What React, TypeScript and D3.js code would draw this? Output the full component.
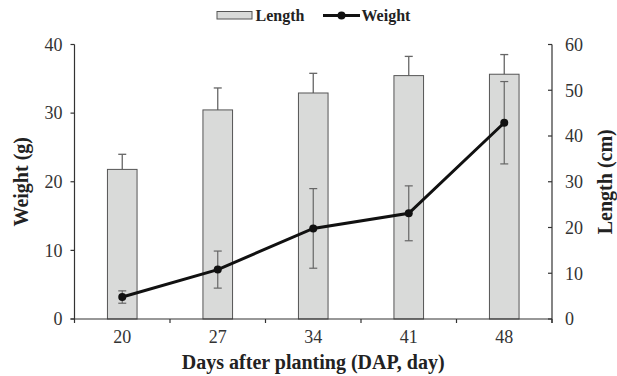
import React from 'react';
import { scaleBand, scaleLinear, line } from 'd3';

const days = ['20', '27', '34', '41', '48'];
const lengthMean = [32.7, 45.7, 49.4, 53.2, 53.5];
const lengthSd = [3.3, 4.8, 4.3, 4.2, 4.3];
const weightMean = [3.2, 7.2, 13.2, 15.4, 28.6];
const weightSd = [0.9, 2.7, 5.8, 4.0, 6.0];
const weightTicks = [0, 10, 20, 30, 40];
const lengthTicks = [0, 10, 20, 30, 40, 50, 60];

const W = 617;
const H = 376;
const margin = { top: 44.5, right: 65, bottom: 57, left: 74.5 };
const FONT = '"Liberation Serif", "Times New Roman", serif';

const App = () => {
  const x = scaleBand().domain(days).range([margin.left, W - margin.right]).padding(0);
  const yW = scaleLinear().domain([0, 40]).range([H - margin.bottom, margin.top]);
  const yL = scaleLinear().domain([0, 60]).range([H - margin.bottom, margin.top]);
  const barW = x.bandwidth() * 0.31;
  const cx = (d: string) => (x(d) as number) + x.bandwidth() / 2;
  const cap = 4;
  const axisColor = '#333';
  const x0 = margin.left;
  const x1 = W - margin.right;
  const yb = H - margin.bottom;
  const midY = (margin.top + yb) / 2;

  const path = line<number>()
    .x((_, i) => cx(days[i]))
    .y((v) => yW(v))(weightMean) as string;

  const boundaries = days.map((d) => x(d) as number).concat([x1]);

  return (
    <svg width={W} height={H} style={{ position: 'absolute', left: 0, top: 0 }} fontFamily={FONT}>
      <rect width={W} height={H} fill="#fff" />

      {/* length bars with upper sd */}
      {days.map((d, i) => (
        <g key={'b' + d}>
          <line x1={cx(d)} x2={cx(d)} y1={yL(lengthMean[i])} y2={yL(lengthMean[i] + lengthSd[i])} stroke="#666" strokeWidth={1.3} />
          <line x1={cx(d) - cap} x2={cx(d) + cap} y1={yL(lengthMean[i] + lengthSd[i])} y2={yL(lengthMean[i] + lengthSd[i])} stroke="#666" strokeWidth={1.3} />
          <rect x={cx(d) - barW / 2} y={yL(lengthMean[i])} width={barW} height={yb - yL(lengthMean[i])} fill="#d9dad9" stroke="#555" strokeWidth={1} />
        </g>
      ))}

      {/* weight error bars */}
      {days.map((d, i) => {
        const lo = yW(weightMean[i] - weightSd[i]);
        const hi = yW(weightMean[i] + weightSd[i]);
        return (
          <g key={'e' + d} stroke="#666" strokeWidth={1.2}>
            <line x1={cx(d)} x2={cx(d)} y1={lo} y2={hi} />
            <line x1={cx(d) - cap} x2={cx(d) + cap} y1={lo} y2={lo} />
            <line x1={cx(d) - cap} x2={cx(d) + cap} y1={hi} y2={hi} />
          </g>
        );
      })}

      <path d={path} fill="none" stroke="#111" strokeWidth={3} />
      {days.map((d, i) => (
        <circle key={'c' + d} cx={cx(d)} cy={yW(weightMean[i])} r={4} fill="#111" />
      ))}

      {/* axes */}
      <g stroke={axisColor} strokeWidth={1.2}>
        <line x1={x0} x2={x0} y1={margin.top} y2={yb} />
        <line x1={x1} x2={x1} y1={margin.top} y2={yb + 4} />
        <line x1={x0 - 4} x2={x1} y1={yb} y2={yb} />
        {weightTicks.map((t) => (
          <line key={'wt' + t} x1={x0 - 4} x2={x0} y1={yW(t)} y2={yW(t)} />
        ))}
        {lengthTicks.map((t) => (
          <line key={'lt' + t} x1={x1 - 4} x2={x1} y1={yL(t)} y2={yL(t)} />
        ))}
        {boundaries.map((b, i) => (
          <line key={'xt' + i} x1={b} x2={b} y1={yb} y2={yb + 4} />
        ))}
      </g>

      <g fontSize={18} fill="#333">
        {weightTicks.map((t) => (
          <text key={'wl' + t} x={x0 - 12} y={yW(t)} dy="0.35em" textAnchor="end">{t}</text>
        ))}
        {lengthTicks.map((t) => (
          <text key={'ll' + t} x={x1 + 13} y={yL(t)} dy="0.35em" textAnchor="start">{t}</text>
        ))}
        {days.map((d) => (
          <text key={'xl' + d} x={cx(d)} y={337} dy="0.35em" textAnchor="middle">{d}</text>
        ))}
      </g>

      <g fontSize={20} fontWeight="bold" fill="#222">
        <text transform={`translate(28, ${midY}) rotate(-90)`} textAnchor="middle">Weight (g)</text>
        <text transform={`translate(612, ${midY}) rotate(-90)`} textAnchor="middle">Length (cm)</text>
        <text x={(x0 + x1) / 2} y={369} textAnchor="middle">Days after planting (DAP, day)</text>
      </g>

      {/* legend */}
      <g fontSize={16} fontWeight="bold" fill="#222">
        <rect x={217} y={11.5} width={35} height={7.5} fill="#d9dad9" stroke="#555" strokeWidth={1} />
        <text x={255.5} y={15.5} dy="0.35em">Length</text>
        <line x1={323} x2={360} y1={15.5} y2={15.5} stroke="#111" strokeWidth={3} />
        <circle cx={341.5} cy={15.5} r={4} fill="#111" />
        <text x={361.5} y={15.5} dy="0.35em">Weight</text>
      </g>
    </svg>
  );
};

export default App;
